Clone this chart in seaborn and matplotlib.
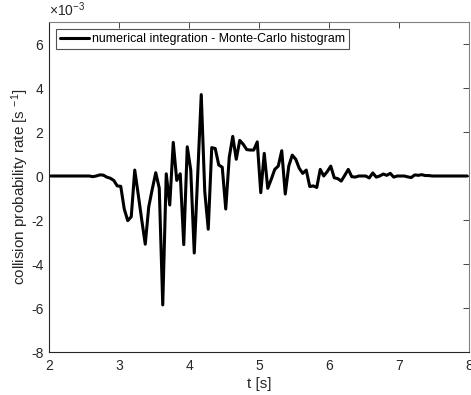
import numpy as np
import pandas as pd
import matplotlib
matplotlib.use("Agg")
import matplotlib.pyplot as plt
import seaborn as sns

# sampling grid (histogram bin centres), seconds
t_start, t_step, n_pts = 2.025, 0.05, 120
t = np.round(t_start + t_step * np.arange(n_pts), 3)

# collision probability rate, in units of 1e-3 s^-1
rate = [
    0, 0, 0, 0, 0, 0, 0, 0, 0, 0,
    0, 0, -0.03, 0.0, 0.05, 0.04, -0.05, -0.1, -0.2, -0.45,
    -0.47, -1.5, -2.03, -1.85, 0.27, -0.85, -2.0, -3.1, -1.4, -0.6,
    0.15, -0.55, -5.86, 0.1, -1.32, 1.53, -0.2, 0.1, -3.12, 1.33,
    0.27, -3.5, 0.1, 3.7, -0.7, -2.42, 1.29, 1.25, 0.5, 0.4,
    -1.5, 0.85, 1.8, 0.76, 1.62, 1.44, 1.2, 1.18, 1.18, 1.55,
    -0.76, 1.03, -0.56, -0.15, 0.3, 0.45, 1.15, -0.82, 0.45, 0.95,
    0.76, 0.35, 0.12, 0.27, -0.48, -0.45, -0.52, 0.3, 0.0, 0.2,
    0.45, -0.08, -0.12, -0.23, 0.03, 0.3, -0.03, -0.05, 0, 0,
    0, -0.09, 0.14, -0.05, 0, 0.09, 0.03, 0.12, -0.05, 0,
    0, 0, -0.04, -0.07, 0.05, 0.03, 0.06, 0.02, 0.02, 0,
    0, 0, 0, 0, 0, 0, 0, 0, 0, 0,
]

x_ticks = [2, 3, 4, 5, 6, 7, 8]
y_ticks = [-8, -6, -4, -2, 0, 2, 4, 6]
legend_label = "numerical integration - Monte-Carlo histogram"

df = pd.DataFrame({"t": t, "rate": rate})

sns.set_theme(style="white")
plt.rcParams["font.family"] = ["Liberation Sans", "DejaVu Sans"]
plt.rcParams["mathtext.fontset"] = "custom"
plt.rcParams["mathtext.rm"] = "Liberation Sans"
plt.rcParams["mathtext.it"] = "Liberation Sans"

fig = plt.figure(figsize=(4.71, 3.95), dpi=100)
ax = fig.add_axes([49 / 471, 1 - 352 / 395, 420 / 471, 330 / 395])

sns.lineplot(data=df, x="t", y="rate", color="black", linewidth=2.2,
             ax=ax, label=legend_label)

axc = "#262626"
ax.set_xlim(2, 8)
ax.set_ylim(-8, 7)
ax.set_xticks(x_ticks)
ax.set_yticks(y_ticks)
ax.set_xticklabels([str(v) for v in x_ticks])
ax.set_yticklabels([str(v) for v in y_ticks])
ax.tick_params(direction="in", length=4, width=0.6, colors=axc,
               labelsize=10, top=True, right=True, labelcolor=axc)
ax.tick_params(axis="x", pad=5)
ax.tick_params(axis="y", pad=4)
for s in ax.spines.values():
    s.set_color("#808080")
    s.set_linewidth(0.8)
    s.set_visible(True)
ax.spines["left"].set_color(axc)
ax.spines["bottom"].set_color(axc)

ax.set_xlabel("t [s]", fontsize=11, color=axc, labelpad=3)
ax.set_ylabel(r"collision probability rate [s $^{-1}$]", fontsize=11,
              color=axc, labelpad=0)
ax.text(0.0, 1.008, r"$\times10^{-3}$", transform=ax.transAxes,
        fontsize=10, color=axc, ha="left", va="bottom")

leg = ax.legend(loc="upper left", fontsize=8.9, frameon=True,
                fancybox=False, borderpad=0.3, handlelength=2.3,
                handletextpad=0.3, borderaxespad=0.6)
leg.get_frame().set_edgecolor(axc)
leg.get_frame().set_linewidth(0.8)
for txt in leg.get_texts():
    txt.set_color("black")

fig.savefig("out.png", dpi=100)
